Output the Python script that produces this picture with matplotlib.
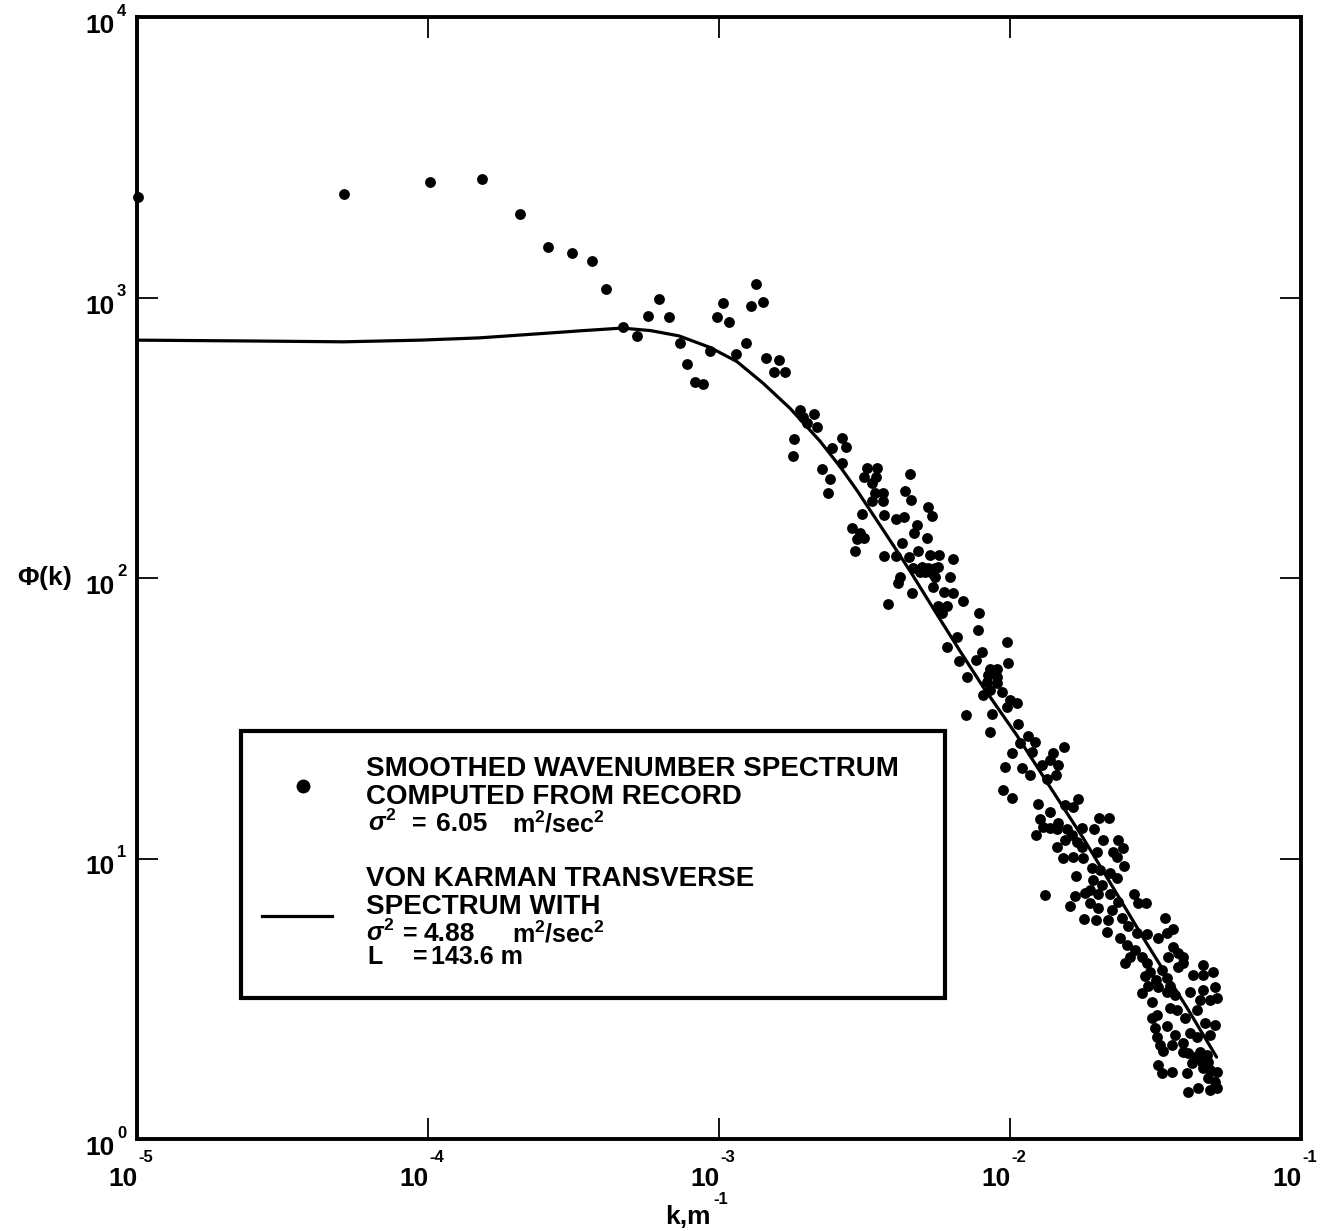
import numpy as np
import matplotlib
matplotlib.use("Agg")
import matplotlib.pyplot as plt
from matplotlib.patches import Rectangle
from matplotlib.lines import Line2D
from matplotlib.transforms import offset_copy

plt.rcParams['font.family'] = ['Liberation Sans', 'DejaVu Sans']
plt.rcParams['font.weight'] = 'bold'
plt.rcParams['mathtext.fontset'] = 'custom'
plt.rcParams['mathtext.rm'] = 'Liberation Sans:bold'
plt.rcParams['mathtext.it'] = 'Liberation Sans:italic:bold'
plt.rcParams['mathtext.bf'] = 'Liberation Sans:bold'
plt.rcParams['mathtext.default'] = 'rm'

# ---- data (stored as log10 values) ----
# smoothed wavenumber spectrum points: log10(k [1/m]), log10(phi)
log10_k_pts = [
    -4.997, -4.287, -3.993, -3.814, -3.684, -3.586, -3.506, -3.436, -3.387, -3.330,
    -3.283, -3.245, -3.207, -3.172, -3.134, -3.110, -3.081, -3.055, -3.032, -3.008,
    -2.987, -2.964, -2.942, -2.906, -2.891, -2.873, -2.849, -2.839, -2.794, -2.811,
    -2.773, -2.722, -2.674, -2.711, -2.699, -2.663, -2.742, -2.746, -2.577, -2.612,
    -2.564, -2.577, -2.646, -2.619, -2.625, -2.492, -2.458, -2.502, -2.462, -2.475,
    -2.464, -2.437, -2.475, -2.435, -2.345, -2.362, -2.341, -2.283, -2.269, -2.508,
    -2.432, -2.393, -2.363, -2.321, -2.330, -2.286, -2.544, -2.515, -2.527, -2.502,
    -2.534, -2.372, -2.315, -2.432, -2.393, -2.346, -2.275, -2.243, -2.197, -2.332,
    -2.303, -2.281, -2.258, -2.246, -2.292, -2.269, -2.258, -2.309, -2.206, -2.378,
    -2.384, -2.266, -2.336, -2.227, -2.195, -2.160, -2.418, -2.246, -2.218, -2.235,
    -2.107, -2.109, -2.181, -2.216, -2.009, -2.097, -2.117, -2.006, -2.174, -2.149,
    -2.069, -2.046, -2.075, -2.046, -2.080, -2.046, -2.069, -2.029, -2.092, -2.000,
    -1.977, -2.011, -2.151, -2.063, -1.974, -2.069, -1.939, -1.914, -1.966, -1.813,
    -1.994, -1.925, -1.853, -2.017, -1.960, -1.931, -1.891, -1.863, -1.834, -1.842,
    -1.874, -2.023, -1.994, -1.903, -1.863, -1.811, -1.782, -1.765, -1.897, -1.886,
    -1.863, -1.834, -1.840, -1.805, -1.911, -1.788, -1.754, -1.711, -1.693, -1.659,
    -1.811, -1.840, -1.771, -1.754, -1.679, -1.702, -1.628, -1.611, -1.645, -1.817,
    -1.782, -1.748, -1.633, -1.607, -1.719, -1.691, -1.716, -1.656, -1.631, -1.773,
    -1.685, -1.880, -1.777, -1.742, -1.725, -1.697, -1.656, -1.794, -1.725, -1.697,
    -1.651, -1.628, -1.573, -1.559, -1.533, -1.745, -1.704, -1.664, -1.616, -1.668,
    -1.593, -1.565, -1.530, -1.467, -1.622, -1.599, -1.490, -1.462, -1.441, -1.570,
    -1.588, -1.605, -1.547, -1.530, -1.439, -1.422, -1.456, -1.404, -1.336, -1.301,
    -1.336, -1.370, -1.422, -1.404, -1.519, -1.498, -1.478, -1.461, -1.491, -1.526,
    -1.450, -1.536, -1.547, -1.513, -1.462, -1.433, -1.381, -1.336, -1.296, -1.313,
    -1.290, -1.347, -1.450, -1.427, -1.358, -1.513, -1.496, -1.399, -1.462, -1.502,
    -1.330, -1.296, -1.496, -1.433, -1.381, -1.358, -1.313, -1.485, -1.473, -1.444,
    -1.404, -1.404, -1.387, -1.364, -1.347, -1.324, -1.341, -1.319, -1.376, -1.490,
    -1.479, -1.444, -1.393, -1.336, -1.313, -1.290, -1.319, -1.296, -1.387, -1.353,
    -1.313, -1.290,
]
log10_phi_pts = [
    3.358, 3.369, 3.413, 3.422, 3.298, 3.180, 3.160, 3.131, 3.030, 2.895,
    2.864, 2.935, 2.995, 2.930, 2.838, 2.763, 2.699, 2.692, 2.809, 2.930,
    2.980, 2.914, 2.799, 2.838, 2.971, 3.048, 2.984, 2.784, 2.777, 2.734,
    2.734, 2.599, 2.586, 2.575, 2.553, 2.539, 2.496, 2.435, 2.499, 2.465,
    2.468, 2.410, 2.389, 2.354, 2.304, 2.392, 2.392, 2.361, 2.361, 2.340,
    2.304, 2.304, 2.276, 2.274, 2.371, 2.311, 2.279, 2.254, 2.222, 2.228,
    2.225, 2.210, 2.217, 2.189, 2.161, 2.143, 2.177, 2.159, 2.138, 2.142,
    2.096, 2.126, 2.096, 2.080, 2.080, 2.076, 2.081, 2.081, 2.068, 2.037,
    2.040, 2.035, 2.035, 2.040, 2.022, 2.019, 2.005, 2.022, 2.005, 2.005,
    1.981, 1.967, 1.945, 1.951, 1.948, 1.918, 1.906, 1.901, 1.901, 1.874,
    1.876, 1.815, 1.791, 1.753, 1.773, 1.737, 1.708, 1.696, 1.705, 1.646,
    1.674, 1.674, 1.654, 1.648, 1.630, 1.625, 1.601, 1.595, 1.583, 1.565,
    1.555, 1.539, 1.512, 1.515, 1.479, 1.450, 1.438, 1.416, 1.411, 1.399,
    1.375, 1.381, 1.377, 1.327, 1.321, 1.298, 1.333, 1.351, 1.333, 1.298,
    1.282, 1.244, 1.215, 1.194, 1.167, 1.191, 1.185, 1.211, 1.140, 1.113,
    1.108, 1.128, 1.104, 1.104, 1.084, 1.084, 1.108, 1.104, 1.143, 1.143,
    1.066, 1.042, 1.060, 1.042, 1.066, 1.024, 1.066, 1.036, 1.024, 1.001,
    1.006, 1.001, 1.006, 0.973, 0.965, 0.959, 0.923, 0.947, 0.929, 0.938,
    0.906, 0.870, 0.866, 0.876, 0.888, 0.873, 0.873, 0.832, 0.842, 0.822,
    0.816, 0.846, 0.873, 0.842, 0.842, 0.784, 0.781, 0.781, 0.787, 0.739,
    0.759, 0.733, 0.730, 0.787, 0.718, 0.692, 0.716, 0.733, 0.748, 0.674,
    0.650, 0.629, 0.650, 0.626, 0.686, 0.662, 0.650, 0.650, 0.620, 0.596,
    0.585, 0.585, 0.614, 0.626, 0.595, 0.567, 0.602, 0.574, 0.542, 0.545,
    0.545, 0.581, 0.519, 0.489, 0.525, 0.513, 0.525, 0.531, 0.543, 0.495,
    0.502, 0.495, 0.466, 0.460, 0.460, 0.430, 0.442, 0.430, 0.403, 0.395,
    0.412, 0.406, 0.365, 0.371, 0.377, 0.365, 0.371, 0.335, 0.314, 0.335,
    0.341, 0.311, 0.306, 0.293, 0.311, 0.299, 0.276, 0.276, 0.270, 0.264,
    0.234, 0.240, 0.236, 0.252, 0.246, 0.240, 0.216, 0.204, 0.169, 0.181,
    0.175, 0.181,
]
# von Karman transverse spectrum curve
log10_k_curve = [-5.000, -4.612, -4.289, -4.027, -3.825, -3.588, -3.466, -3.333,
                 -3.235, -3.137, -3.031, -2.939, -2.848, -2.756, -2.653, -2.584,
                 -2.527, -2.435, -2.344, -2.252, -2.172, -2.092, -1.977, -1.863,
                 -1.748, -1.645, -1.542, -1.473, -1.393, -1.290]
log10_phi_curve = [2.848, 2.845, 2.842, 2.848, 2.856, 2.873, 2.882, 2.891,
                   2.882, 2.863, 2.822, 2.772, 2.694, 2.605, 2.488, 2.397,
                   2.314, 2.170, 2.026, 1.872, 1.740, 1.611, 1.440, 1.256,
                   1.072, 0.895, 0.717, 0.602, 0.470, 0.292]

x_tick_exponents = [-5, -4, -3, -2, -1]
x_label_exponents = ["-5", "-4", "-3", "-2", "-1"]
y_tick_exponents = [0, 1, 2, 3, 4]
y_label_exponents = ["0", "1", "2", "3", "4"]

legend_lines_1 = ["SMOOTHED WAVENUMBER SPECTRUM", "COMPUTED FROM RECORD"]
legend_sigma_1 = [r"$\mathit{\sigma}^{2}$", "=", "6.05", r"m$^{2}$/sec$^{2}$"]
legend_lines_2 = ["VON KARMAN TRANSVERSE", "SPECTRUM WITH"]
legend_sigma_2 = [r"$\mathit{\sigma}^{2}$", "=", "4.88", r"m$^{2}$/sec$^{2}$"]
legend_L_2 = ["L", "=", "143.6 m"]

k_pts = 10 ** np.array(log10_k_pts)
phi_pts = 10 ** np.array(log10_phi_pts)
k_curve = 10 ** np.array(log10_k_curve)
phi_curve = 10 ** np.array(log10_phi_curve)

W, H = 1321, 1231
fig = plt.figure(figsize=(W / 100, H / 100), dpi=100)
ax = fig.add_axes([137 / W, 1 - 1139 / H, 1164 / W, 1122 / H])
ax.set_xscale('log')
ax.set_yscale('log')
ax.set_xlim(1e-5, 1e-1)
ax.set_ylim(1e0, 1e4)

ax.plot(k_curve, phi_curve, color='black', lw=2.3, solid_capstyle='round',
        solid_joinstyle='round', zorder=3)
ax.plot(k_pts, phi_pts, linestyle='none', marker='o', ms=7.8, color='black',
        markeredgewidth=0, clip_on=False, zorder=4)

for s in ax.spines.values():
    s.set_linewidth(2.8)
ax.set_xticks([10.0 ** e for e in x_tick_exponents])
ax.set_yticks([10.0 ** e for e in y_tick_exponents])
ax.minorticks_off()
ax.tick_params(which='major', direction='in', length=15, width=1.3,
               top=True, right=True, labelbottom=False, labelleft=False)

# tick labels drawn as "10" + raised exponent
xt = ax.get_xaxis_transform()
for e, lab in zip(x_tick_exponents, x_label_exponents):
    x = 10.0 ** e
    ax.text(x, 0, "10", transform=offset_copy(xt, fig=fig, x=1, y=-40, units='dots'),
            ha='right', va='center', fontsize=19, fontweight='bold')
    ax.text(x, 0, lab, transform=offset_copy(xt, fig=fig, x=1, y=-18, units='dots'),
            ha='left', va='center', fontsize=12, fontweight='bold')
yt = ax.get_yaxis_transform()
for e, lab in zip(y_tick_exponents, y_label_exponents):
    y = 10.0 ** e
    ax.text(0, y, "10", transform=offset_copy(yt, fig=fig, x=-22, y=-9, units='dots'),
            ha='right', va='center', fontsize=19, fontweight='bold')
    ax.text(0, y, lab, transform=offset_copy(yt, fig=fig, x=-20, y=6, units='dots'),
            ha='left', va='center', fontsize=12, fontweight='bold')

# axis labels
fig.text(44 / W, 1 - 578 / H, r"$\mathit{\Phi}$(k)", ha='center', va='center',
         fontsize=19, fontweight='bold')
fig.text(711 / W, 1 - 1217 / H, "k,m", ha='right', va='center',
         fontsize=19, fontweight='bold')
fig.text(713 / W, 1 - 1199 / H, "-1", ha='left', va='center',
         fontsize=12, fontweight='bold')

# legend box
fig.patches.append(Rectangle((243 / W, 1 - 996 / H), (941 - 243) / W, (996 - 733) / H,
                             transform=fig.transFigure, fill=True, facecolor='white',
                             lw=0, zorder=4.9))
fig.patches.append(Rectangle((241 / W, 1 - 998 / H), (945 - 241) / W, (998 - 731) / H,
                             transform=fig.transFigure, fill=False, lw=3.0,
                             edgecolor='black', zorder=5))
fig.lines.append(Line2D([303 / W], [1 - 786 / H], transform=fig.transFigure,
                        marker='o', ms=9, color='black', linestyle='none', zorder=6))
fig.lines.append(Line2D([262 / W, 332 / W], [1 - 916 / H, 1 - 916 / H],
                        transform=fig.transFigure, color='black', lw=2.3, zorder=6))


def ltext(xpx, ypx, s, size=20):
    fig.text(xpx / W, 1 - ypx / H, s, ha='left', va='center', fontsize=size,
             fontweight='bold', zorder=6)


ltext(366, 769, legend_lines_1[0])
ltext(366, 797, legend_lines_1[1])
ltext(368, 823, legend_sigma_1[0], 18)
ltext(412, 824, legend_sigma_1[1], 18)
ltext(436, 824, legend_sigma_1[2], 19)
ltext(512, 824, legend_sigma_1[3], 18)
ltext(366, 879, legend_lines_2[0])
ltext(366, 907, legend_lines_2[1])
ltext(366, 933, legend_sigma_2[0], 18)
ltext(403, 934, legend_sigma_2[1], 18)
ltext(424, 934, legend_sigma_2[2], 19)
ltext(512, 934, legend_sigma_2[3], 18)
ltext(367, 957, legend_L_2[0], 18)
ltext(413, 957, legend_L_2[1], 18)
ltext(431, 957, legend_L_2[2], 18)

fig.savefig("out.png", dpi=100, facecolor='white')
